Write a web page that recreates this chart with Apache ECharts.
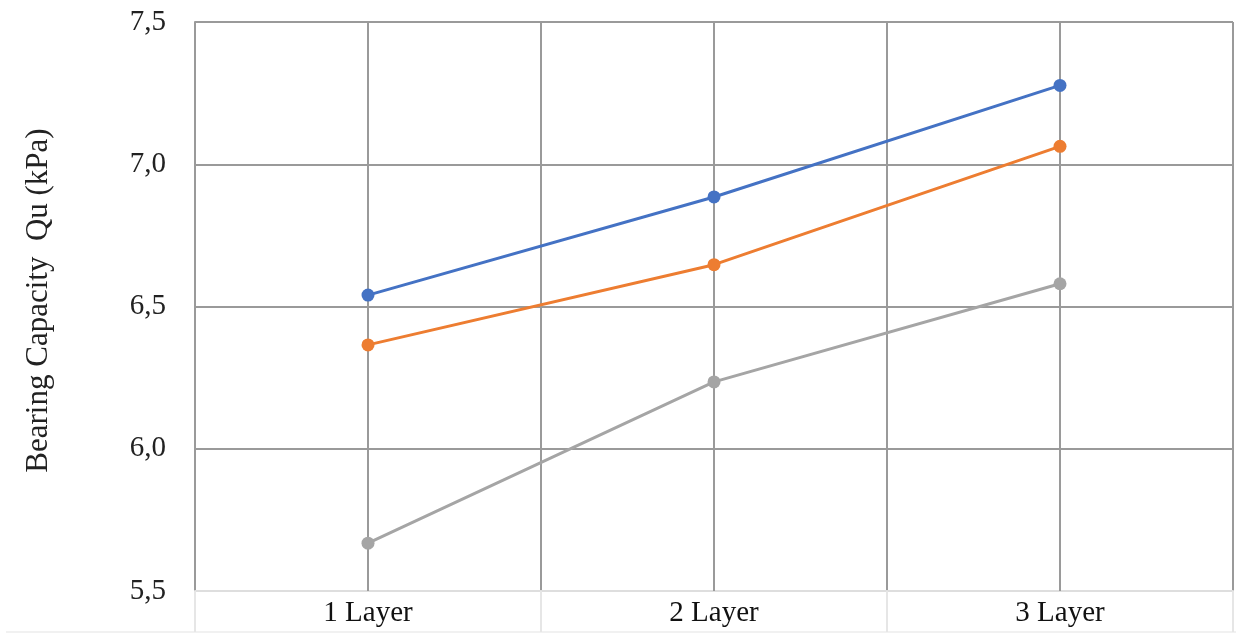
<!DOCTYPE html>
<html>
<head>
<meta charset="utf-8">
<script src="https://cdn.jsdelivr.net/npm/echarts@6/dist/echarts.min.js"></script>
<style>
html,body{margin:0;padding:0;background:#fff;}
#chart{width:1236px;height:634px;}
</style>
</head>
<body>
<div id="chart"></div>
<script>
const categories = ['1 Layer', '2 Layer', '3 Layer'];
const seriesBlue = [6.54, 6.885, 7.277];
const seriesOrange = [6.365, 6.647, 7.063];
const seriesGrey = [5.668, 6.235, 6.58];
const yTicks = {min: 5.5, max: 7.5, interval: 0.5};
const yTitle = 'Bearing Capacity  Qu (kPa)';

const font = '"Liberation Serif", "Times New Roman", serif';
const gridColor = '#9a9a9a';

function lineSeries(name, data, color, withMark) {
  const s = {
    name: name,
    type: 'line',
    data: data,
    symbol: 'circle',
    symbolSize: 13,
    lineStyle: {color: color, width: 3},
    itemStyle: {color: color},
    z: 3
  };
  if (withMark) {
    s.markLine = {
      silent: true,
      symbol: ['none', 'none'],
      label: {show: false},
      lineStyle: {color: gridColor, width: 2, type: 'solid'},
      data: categories.map(c => ({xAxis: c})),
      z: 1
    };
  }
  return s;
}

const chart = echarts.init(document.getElementById('chart'), null, {renderer: 'canvas'});
chart.setOption({
  animation: false,
  backgroundColor: '#fff',
  grid: {left: 195, right: 3, top: 22, bottom: 43},
  xAxis: {
    type: 'category',
    data: categories,
    boundaryGap: true,
    axisLine: {show: true, lineStyle: {color: '#dedede', width: 2}},
    axisTick: {show: true, length: 41, lineStyle: {color: '#e6e6e6', width: 2}},
    axisLabel: {color: '#111', fontFamily: font, fontSize: 29, margin: 8},
    splitLine: {show: true, lineStyle: {color: gridColor, width: 2}}
  },
  yAxis: {
    type: 'value',
    min: yTicks.min,
    max: yTicks.max,
    interval: yTicks.interval,
    name: yTitle,
    nameLocation: 'middle',
    nameGap: 141,
    nameTextStyle: {color: '#222', fontFamily: font, fontSize: 31, padding: [0, 0, 0, 12]},
    axisLine: {show: true, lineStyle: {color: gridColor, width: 2}},
    axisTick: {show: false},
    axisLabel: {
      color: '#222', fontFamily: font, fontSize: 29, margin: 29,
      formatter: v => v.toFixed(1).replace('.', ',')
    },
    splitLine: {show: true, lineStyle: {color: gridColor, width: 2}}
  },
  graphic: [{
    type: 'line',
    shape: {x1: 6, y1: 632, x2: 1236, y2: 632},
    style: {stroke: '#ececec', lineWidth: 1.5},
    silent: true
  }],
  series: [
    lineSeries('Blue', seriesBlue, '#4472C4', true),
    lineSeries('Orange', seriesOrange, '#ED7D31', false),
    lineSeries('Grey', seriesGrey, '#A5A5A5', false)
  ]
});
</script>
</body>
</html>
